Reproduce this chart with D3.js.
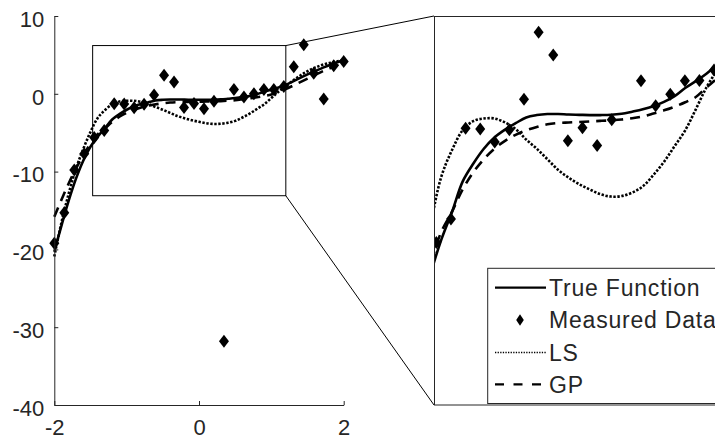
<!DOCTYPE html>
<html>
<head>
<meta charset="utf-8">
<script src="https://cdn.jsdelivr.net/npm/d3@7"></script>
<style>
  html, body { margin: 0; padding: 0; background: #fff; }
  svg { display: block; }
  text { font-family: "Liberation Sans", Arial, Helvetica, sans-serif; fill: #262626; }
</style>
</head>
<body>
<svg id="chart" width="715" height="439"></svg>
<script>
// ---------- data ----------
const curveX = [-2.0,-1.9,-1.8,-1.7,-1.6,-1.5,-1.4,-1.3,-1.2,-1.1,-1.0,-0.9,-0.8,-0.7,-0.6,-0.5,-0.4,-0.3,-0.2,-0.1,
                0.0,0.1,0.2,0.3,0.4,0.5,0.6,0.7,0.8,0.9,1.0,1.1,1.2,1.3,1.4,1.5,1.6,1.7,1.8,1.9,2.0];
const trueY = [-20.3,-16.9,-13.7,-10.9,-8.6,-6.8,-5.5,-4.45,-3.3,-2.62,-2.05,-1.62,-1.32,-1.08,-0.86,-0.77,-0.73,-0.73,-0.75,-0.76,
               -0.77,-0.77,-0.76,-0.72,-0.64,-0.55,-0.43,-0.27,-0.05,0.26,0.52,0.8,1.16,1.6,2.05,2.5,2.92,3.3,3.68,4.02,4.32];
const lsY   = [-20.9,-16.5,-12.8,-9.6,-7.1,-4.9,-3.1,-2.1,-1.35,-1.0,-0.9,-0.9,-1.05,-1.3,-1.7,-2.05,-2.45,-2.85,-3.15,-3.4,
               -3.6,-3.78,-3.87,-3.85,-3.72,-3.48,-3.05,-2.55,-1.95,-1.35,-0.55,0.28,0.95,1.7,2.35,2.9,3.35,3.7,3.95,4.15,4.3];
const gpY   = [-15.8,-13.6,-11.5,-9.6,-7.9,-6.4,-5.2,-4.45,-3.6,-2.95,-2.45,-2.05,-1.75,-1.52,-1.35,-1.22,-1.12,-1.07,-1.05,-1.03,
               -1.01,-0.99,-0.97,-0.94,-0.89,-0.82,-0.71,-0.59,-0.45,-0.28,-0.08,0.28,0.62,1.05,1.5,1.95,2.4,2.85,3.25,3.65,4.0];
const pointX = [-2.0,-1.862,-1.724,-1.586,-1.448,-1.310,-1.172,-1.034,-0.897,-0.759,-0.621,-0.483,-0.345,-0.207,-0.069,
                0.069,0.207,0.345,0.483,0.621,0.759,0.897,1.034,1.172,1.310,1.448,1.586,1.724,1.862,2.0];
const pointY = [-19.2,-15.3,-9.8,-7.7,-5.62,-4.72,-1.27,-1.3,-1.79,-1.33,-0.17,2.38,1.52,-1.75,-1.25,
                -1.93,-0.95,-31.8,0.54,-0.41,0.02,0.54,0.55,0.95,3.48,6.3,2.65,-0.68,3.6,4.15];
const xTicks = [-2, 0, 2];
const yTicks = [-40, -30, -20, -10, 0, 10];
const mainXDomain = [-2, 2];
const mainYDomain = [-40, 10];
const zoomXDomain = [-1.47, 1.2];
const zoomYDomain = [-13.1, 6.2];   // rectangle drawn on main axes
const insetYDomain = [-11.8, 3.0];  // vertical range shown in inset
const legendLabels = ["True Function", "Measured Data", "LS", "GP"];

// ---------- layout ----------
const svg = d3.select("#chart");
const main = { left: 54.3, right: 343.7, top: 16, bottom: 405 };
const inset = { left: 434, right: 717, top: 16, bottom: 405 };
const axisColor = "#262626";

const x = d3.scaleLinear().domain(mainXDomain).range([main.left, main.right]);
const y = d3.scaleLinear().domain(mainYDomain).range([main.bottom, main.top]);
const xi = d3.scaleLinear().domain(zoomXDomain).range([inset.left, inset.right]);
const yi = d3.scaleLinear().domain(insetYDomain).range([inset.bottom, inset.top]);

const curveData = (ys) => curveX.map((cx, i) => [cx, ys[i]]);
const styles = {
  truef: { w: 2.6, dash: null },
  ls:    { w: 2.6, dash: "2.4,1.6" },
  gp:    { w: 2.6, dash: "10,7" }
};

function diamond(hw, hh) {
  return `M0,${-hh}L${hw},0L0,${hh}L${-hw},0Z`;
}

function drawSeries(g, sx, sy, mw, mh) {
  const line = d3.line().x(d => sx(d[0])).y(d => sy(d[1])).curve(d3.curveCatmullRom.alpha(0.5));
  g.append("path").datum(curveData(trueY)).attr("d", line)
    .attr("fill", "none").attr("stroke", "#000").attr("stroke-width", styles.truef.w);
  g.selectAll("path.pt").data(pointX.map((px, i) => [px, pointY[i]])).join("path")
    .attr("class", "pt")
    .attr("d", diamond(mw, mh))
    .attr("transform", d => `translate(${sx(d[0])},${sy(d[1])})`)
    .attr("fill", "#000");
  g.append("path").datum(curveData(lsY)).attr("d", line)
    .attr("fill", "none").attr("stroke", "#000").attr("stroke-width", styles.ls.w)
    .attr("stroke-dasharray", styles.ls.dash);
  g.append("path").datum(curveData(gpY)).attr("d", line)
    .attr("fill", "none").attr("stroke", "#000").attr("stroke-width", styles.gp.w)
    .attr("stroke-dasharray", styles.gp.dash);
}

// ---------- main axes ----------
const gMain = svg.append("g");
drawSeries(gMain, x, y, 5, 6.5);

const xAxis = d3.axisBottom(x).tickValues(xTicks).tickSizeInner(-4).tickSizeOuter(0).tickPadding(15)
  .tickFormat(d3.format("d"));
const yAxis = d3.axisLeft(y).tickValues(yTicks).tickSizeInner(-4).tickSizeOuter(0).tickPadding(10)
  .tickFormat(d3.format("d"));

const gx = svg.append("g").attr("transform", `translate(0,${main.bottom})`).call(xAxis);
const gy = svg.append("g").attr("transform", `translate(${main.left},0)`).call(yAxis);
[gx, gy].forEach(g => {
  g.select(".domain").attr("stroke", axisColor).attr("stroke-width", 1);
  g.selectAll(".tick line").attr("stroke", axisColor);
  g.selectAll(".tick text").attr("font-size", 22).attr("fill", axisColor)
    .attr("font-family", "'Liberation Sans', Arial, sans-serif");
});
gy.selectAll(".tick text").attr("dy", "0.47em");
gx.selectAll(".tick text").attr("dy", "0.66em");
gx.selectAll(".tick text").text(d => d < 0 ? "-" + Math.abs(d) : d);
gy.selectAll(".tick text").text(d => d < 0 ? "-" + Math.abs(d) : d);

// zoom rectangle
svg.append("rect")
  .attr("x", x(zoomXDomain[0])).attr("y", y(zoomYDomain[1]))
  .attr("width", x(zoomXDomain[1]) - x(zoomXDomain[0]))
  .attr("height", y(zoomYDomain[0]) - y(zoomYDomain[1]))
  .attr("fill", "none").attr("stroke", "#000").attr("stroke-width", 1);

// connector lines
svg.append("line")
  .attr("x1", x(zoomXDomain[1])).attr("y1", y(zoomYDomain[1]))
  .attr("x2", inset.left).attr("y2", inset.top)
  .attr("stroke", "#000").attr("stroke-width", 1);
svg.append("line")
  .attr("x1", x(zoomXDomain[1])).attr("y1", y(zoomYDomain[0]))
  .attr("x2", inset.left).attr("y2", inset.bottom)
  .attr("stroke", "#000").attr("stroke-width", 1);

// ---------- inset axes ----------
svg.append("clipPath").attr("id", "insetClip").append("rect")
  .attr("x", inset.left).attr("y", inset.top)
  .attr("width", inset.right - inset.left).attr("height", inset.bottom - inset.top);
svg.append("rect")
  .attr("x", inset.left).attr("y", inset.top)
  .attr("width", inset.right - inset.left).attr("height", inset.bottom - inset.top)
  .attr("fill", "#fff");
const gInset = svg.append("g").attr("clip-path", "url(#insetClip)");
drawSeries(gInset, xi, yi, 5, 6.5);
svg.append("rect")
  .attr("x", inset.left + 0.5).attr("y", inset.top + 0.5)
  .attr("width", inset.right - inset.left + 5).attr("height", inset.bottom - inset.top - 0.5)
  .attr("fill", "none").attr("stroke", axisColor).attr("stroke-width", 1);

// ---------- legend ----------
const leg = { left: 487.7, top: 268.3, bottom: 403.5, right: 740 };
svg.append("rect")
  .attr("x", leg.left).attr("y", leg.top)
  .attr("width", leg.right - leg.left).attr("height", leg.bottom - leg.top)
  .attr("fill", "#fff").attr("stroke", axisColor).attr("stroke-width", 1);

const rowY = [287.7, 320.0, 352.5, 384.3];
const textX = 549;
const sx0 = 495, sx1 = 546;
// True function sample
svg.append("line").attr("x1", sx0).attr("x2", sx1).attr("y1", rowY[0]).attr("y2", rowY[0])
  .attr("stroke", "#000").attr("stroke-width", 2.2);
// marker sample
svg.append("path").attr("d", diamond(3.8, 5.8))
  .attr("transform", `translate(${(sx0 + sx1) / 2 - 0.5},${rowY[1]})`).attr("fill", "#000");
// LS sample
svg.append("line").attr("x1", sx0).attr("x2", sx1).attr("y1", rowY[2]).attr("y2", rowY[2])
  .attr("stroke", "#000").attr("stroke-width", 1.3).attr("stroke-dasharray", "1.3,1.3");
// GP sample
svg.append("line").attr("x1", sx0).attr("x2", sx1 + 1).attr("y1", rowY[3]).attr("y2", rowY[3])
  .attr("stroke", "#000").attr("stroke-width", 2.2).attr("stroke-dasharray", "9,9.5");

svg.selectAll("text.leg").data(legendLabels).join("text")
  .attr("class", "leg")
  .attr("x", textX).attr("y", (d, i) => rowY[i])
  .attr("dy", "0.36em")
  .attr("font-size", 23)
  .attr("letter-spacing", "0.8px")
  .text(d => d);
</script>
</body>
</html>
